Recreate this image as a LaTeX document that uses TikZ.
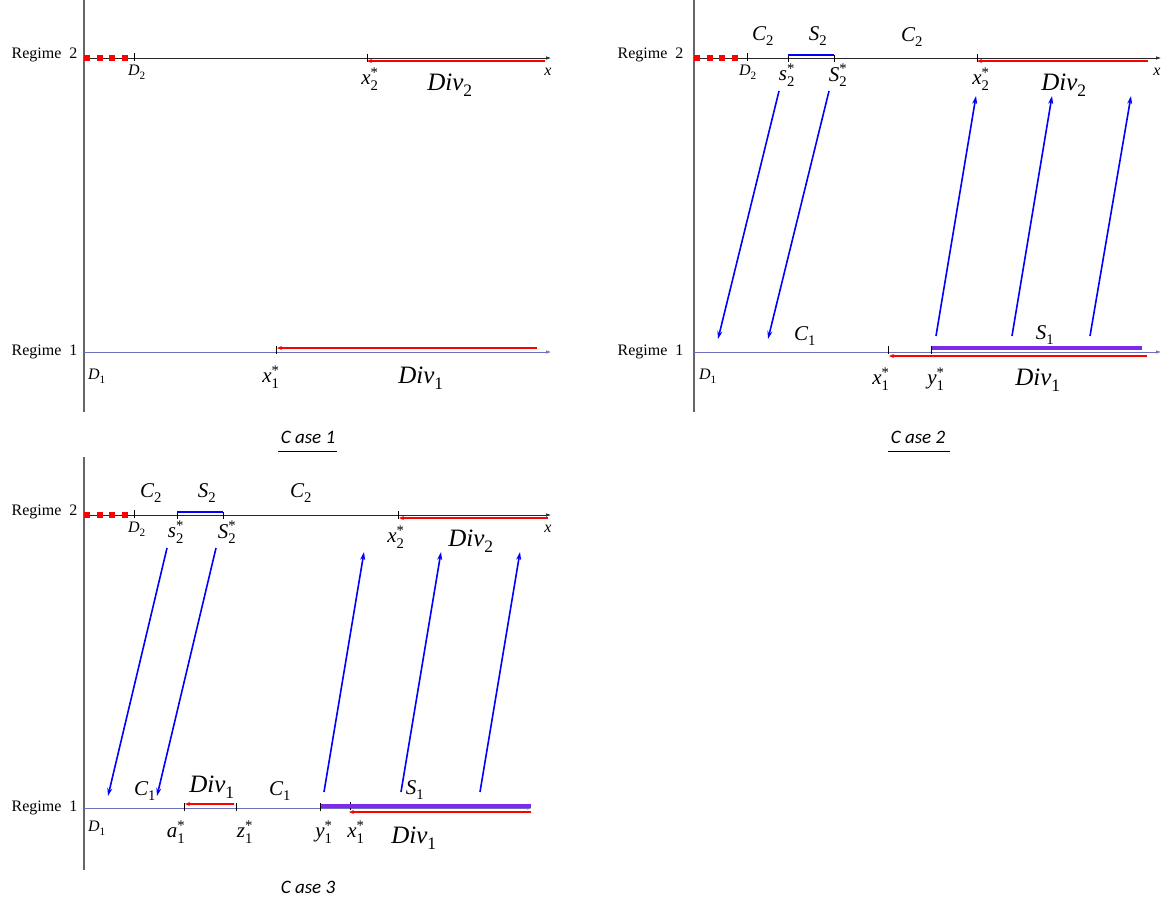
\documentclass[tikz,border=0pt]{standalone}
\usepackage{amsmath}
\usepackage{fontspec}
\setmainfont{Liberation Serif}
\newfontfamily\casefont{Carlito}
\usetikzlibrary{arrows.meta}

\definecolor{regblue}{RGB}{110,110,190}
\definecolor{barviolet}{RGB}{125,40,235}

% italic letter with upright index and optional star
\newcommand{\vlbl}[3]{$\textit{#1}_{\text{#2}}^{\text{#3}}$}

\begin{document}
\begin{tikzpicture}[x=1pt, y=-1pt, >={Stealth[length=8pt,width=5pt]},
    vaxis/.style={draw=gray!80!black, line width=1.2pt},
    axistwo/.style={draw=gray!30!black, line width=0.6pt, -{Latex[length=5pt,width=3.5pt]}},
    axisone/.style={draw=regblue, line width=0.6pt, -{Latex[length=5pt,width=3.5pt]}},
    dashred/.style={draw=red, line width=6.5pt, dash pattern=on 6pt off 6.5pt},
    tickmark/.style={draw=black, line width=0.6pt},
    divarrow/.style={draw=red, line width=1.6pt, -{Stealth[length=5pt,width=4pt]}},
    jumparrow/.style={draw=blue, line width=1.6pt, ->},
    sbar/.style={draw=blue, line width=2.2pt},
    sbarone/.style={draw=barviolet, line width=3.6pt},
    regime/.style={anchor=east, font=\fontsize{16}{18}\selectfont},
    biglbl/.style={font=\fontsize{25}{27}\selectfont},
    midlbl/.style={font=\fontsize{21}{23}\selectfont},
    smalllbl/.style={font=\fontsize{16}{18}\selectfont},
    caselbl/.style={font=\casefont\itshape\fontsize{19}{21}\selectfont}
  ]
  \useasboundingbox (0,0) rectangle (1162,907);

  % ---------------- Case 1 ----------------
  \draw[vaxis] (84,0) -- (84,412);
  \node[regime] (regA2) at (81,55) {Regime\ \ 2};
  \node[regime] (regA1) at (81,352) {Regime\ \ 1};
  % regime 2
  \draw[axistwo] (84,58) -- (551,58);
  \draw[dashred] (84,58) -- (131,58);
  \draw[tickmark] (134,53) -- (134,61);
  \draw[tickmark] (367,54) -- (367,62);
  \node[smalllbl] (dA2) at (137,72) {\vlbl{D}{2}{}};
  \node[midlbl] (xA2) at (370,79) {\vlbl{x}{2}{*}};
  \node[smalllbl] (xlblA) at (548,72) {\textit{x}};
  \node[biglbl] (divA2) at (450,85) {\vlbl{Div}{2}{}};
  \coordinate (divA2s) at (545,61);
  \coordinate (divA2e) at (367,61);
  \draw[divarrow] (divA2s) -- (divA2e);
  % regime 1
  \draw[axisone] (84,352) -- (551,352);
  \draw[tickmark] (276,346) -- (276,354);
  \node[smalllbl] (dA1) at (97,376) {\vlbl{D}{1}{}};
  \node[midlbl] (xA1) at (271,377) {\vlbl{x}{1}{*}};
  \node[biglbl] (divA1) at (421,378) {\vlbl{Div}{1}{}};
  \coordinate (divA1s) at (537,348);
  \coordinate (divA1e) at (277,348);
  \draw[divarrow] (divA1s) -- (divA1e);
  \node[caselbl] (caseA) at (308,437) {C ase 1};
  \draw[line width=0.6pt] (278,451) -- (337,451);

  % ---------------- Case 2 ----------------
  \draw[vaxis] (694,0) -- (694,412);
  \node[regime] (regB2) at (687,55) {Regime\ \ 2};
  \node[regime] (regB1) at (687,352) {Regime\ \ 1};
  % regime 2
  \draw[axistwo] (694,58) -- (1161,58);
  \draw[dashred] (694,58) -- (741,58);
  \draw[tickmark] (747,53) -- (747,61);
  \draw[tickmark] (788,55) -- (788,62);
  \draw[tickmark] (834,55) -- (834,62);
  \draw[tickmark] (977,54) -- (977,62);
  \draw[sbar] (788,55) -- (834,55);
  \node[midlbl] (cB2a) at (763,36) {\vlbl{C}{2}{}};
  \node[midlbl] (sB2) at (818,36) {\vlbl{S}{2}{}};
  \node[midlbl] (cB2b) at (912,37) {\vlbl{C}{2}{}};
  \node[smalllbl] (dB2) at (748,72) {\vlbl{D}{2}{}};
  \node[midlbl] (sB2lo) at (787,75) {\vlbl{s}{2}{*}};
  \node[midlbl] (sB2hi) at (838,75) {\vlbl{S}{2}{*}};
  \node[midlbl] (xB2) at (981,79) {\vlbl{x}{2}{*}};
  \node[smalllbl] (xlblB) at (1157,72) {\textit{x}};
  \node[biglbl] (divB2) at (1064,85) {\vlbl{Div}{2}{}};
  \coordinate (divB2s) at (1148,61);
  \coordinate (divB2e) at (977,61);
  \draw[divarrow] (divB2s) -- (divB2e);
  % regime 1
  \draw[axisone] (694,352) -- (1161,352);
  \draw[tickmark] (888,346) -- (888,354);
  \draw[tickmark] (931,346) -- (931,354);
  \draw[sbarone] (932,348) -- (1142,348);
  \node[midlbl] (cB1) at (805,336) {\vlbl{C}{1}{}};
  \node[midlbl] (sB1) at (1045,335) {\vlbl{S}{1}{}};
  \node[smalllbl] (dB1) at (708,376) {\vlbl{D}{1}{}};
  \node[midlbl] (xB1) at (881,379) {\vlbl{x}{1}{*}};
  \node[midlbl] (yB1) at (936,379) {\vlbl{y}{1}{*}};
  \node[biglbl] (divB1) at (1038,380) {\vlbl{Div}{1}{}};
  \coordinate (divB1s) at (1147,356);
  \coordinate (divB1e) at (889,356);
  \draw[divarrow] (divB1s) -- (divB1e);
  % jumps between regimes
  \coordinate (jB1s) at (779,91);  \coordinate (jB1e) at (718,339);
  \coordinate (jB2s) at (829,91);  \coordinate (jB2e) at (768,339);
  \coordinate (jB3s) at (936,336); \coordinate (jB3e) at (976,96);
  \coordinate (jB4s) at (1012,336); \coordinate (jB4e) at (1052,96);
  \coordinate (jB5s) at (1090,336); \coordinate (jB5e) at (1131,96);
  \foreach \j in {1,...,5}
    \draw[jumparrow] (jB\j s) -- (jB\j e);
  \node[caselbl] (caseB) at (918,437) {C ase 2};
  \draw[line width=0.6pt] (888,451) -- (950,451);

  % ---------------- Case 3 ----------------
  \draw[vaxis] (84,457) -- (84,870);
  \node[regime] (regC2) at (81,512) {Regime\ \ 2};
  \node[regime] (regC1) at (81,808) {Regime\ \ 1};
  % regime 2
  \draw[axistwo] (84,515) -- (551,515);
  \draw[dashred] (84,515) -- (131,515);
  \draw[tickmark] (134,510) -- (134,518);
  \draw[tickmark] (177,512) -- (177,519);
  \draw[tickmark] (223,512) -- (223,519);
  \draw[tickmark] (398,511) -- (398,519);
  \draw[sbar] (177,512) -- (223,512);
  \node[midlbl] (cC2a) at (151,493) {\vlbl{C}{2}{}};
  \node[midlbl] (sC2) at (207,493) {\vlbl{S}{2}{}};
  \node[midlbl] (cC2b) at (301,493) {\vlbl{C}{2}{}};
  \node[smalllbl] (dC2) at (137,529) {\vlbl{D}{2}{}};
  \node[midlbl] (sC2lo) at (176,532) {\vlbl{s}{2}{*}};
  \node[midlbl] (sC2hi) at (227,532) {\vlbl{S}{2}{*}};
  \node[midlbl] (xC2) at (396,537) {\vlbl{x}{2}{*}};
  \node[smalllbl] (xlblC) at (548,529) {\textit{x}};
  \node[biglbl] (divC2) at (471,541) {\vlbl{Div}{2}{}};
  \coordinate (divC2s) at (548,518);
  \coordinate (divC2e) at (399,518);
  \draw[divarrow] (divC2s) -- (divC2e);
  % regime 1
  \draw[axisone] (84,808) -- (532,808);
  \draw[tickmark] (184,803) -- (184,811);
  \draw[tickmark] (236,803) -- (236,811);
  \draw[tickmark] (320,803) -- (320,811);
  \draw[tickmark] (350,802) -- (350,810);
  \draw[sbarone] (321,806) -- (531,806);
  \node[midlbl] (cC1a) at (145,791) {\vlbl{C}{1}{}};
  \node[biglbl] (divC1a) at (212,787) {\vlbl{Div}{1}{}};
  \node[midlbl] (cC1b) at (280,791) {\vlbl{C}{1}{}};
  \node[midlbl] (sC1) at (415,790) {\vlbl{S}{1}{}};
  \node[smalllbl] (dC1) at (97,828) {\vlbl{D}{1}{}};
  \node[midlbl] (aC1) at (176,832) {\vlbl{a}{1}{*}};
  \node[midlbl] (zC1) at (245,832) {\vlbl{z}{1}{*}};
  \node[midlbl] (yC1) at (324,832) {\vlbl{y}{1}{*}};
  \node[midlbl] (xC1) at (356,832) {\vlbl{x}{1}{*}};
  \node[biglbl] (divC1b) at (414,838) {\vlbl{Div}{1}{}};
  \coordinate (divC1as) at (234,804);
  \coordinate (divC1ae) at (185,804);
  \draw[divarrow, line width=1.1pt] (divC1as) -- (divC1ae);
  \coordinate (divC1bs) at (531,812);
  \coordinate (divC1be) at (349,812);
  \draw[divarrow] (divC1bs) -- (divC1be);
  % jumps between regimes
  \coordinate (jC1s) at (167,548); \coordinate (jC1e) at (108,796);
  \coordinate (jC2s) at (216,548); \coordinate (jC2e) at (157,796);
  \coordinate (jC3s) at (324,792); \coordinate (jC3e) at (364,552);
  \coordinate (jC4s) at (401,792); \coordinate (jC4e) at (441,552);
  \coordinate (jC5s) at (480,792); \coordinate (jC5e) at (520,552);
  \foreach \j in {1,...,5}
    \draw[jumparrow] (jC\j s) -- (jC\j e);
  \node[caselbl] (caseC) at (308,887) {C ase 3};

\end{tikzpicture}
\end{document}
